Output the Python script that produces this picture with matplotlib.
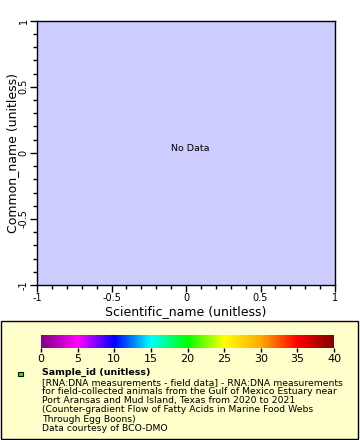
import numpy as np
import matplotlib.pyplot as plt
from matplotlib.colors import LinearSegmentedColormap, Normalize
from matplotlib.patches import Rectangle
from matplotlib.ticker import MultipleLocator
import matplotlib as mpl

# no rows came back from the query, so the scatter is empty
scientific_name = []
common_name = []
sample_id = []

x_range = [-1, 1]
y_range = [-1, 1]
cbar_ticks = [0, 5, 10, 15, 20, 25, 30, 35, 40]
cbar_colors = ["#800080", "#ff00ff", "#0000ff", "#00ffff", "#00ff00",
               "#ffff00", "#ffaa00", "#ff0000", "#800000"]

legend_title = "Sample_id (unitless)"
legend_lines = [
    "[RNA:DNA measurements - field data] - RNA:DNA measurements",
    "for field-collected animals from the Gulf of Mexico Estuary near",
    "Port Aransas and Mud Island, Texas from 2020 to 2021",
    "(Counter-gradient Flow of Fatty Acids in Marine Food Webs",
    "Through Egg Boons)",
    "Data courtesy of BCO-DMO",
]

cmap = LinearSegmentedColormap.from_list(
    "rainbow2", list(zip(np.linspace(0, 1, len(cbar_colors)), cbar_colors)))
norm = Normalize(cbar_ticks[0], cbar_ticks[-1])

fig = plt.figure(figsize=(3.6, 4.4), dpi=100)

# legend box, kept behind the colorbar
fig.patches.append(Rectangle((0.003, 0.002), 0.992, 0.268, transform=fig.transFigure,
                             facecolor="#ffffcc", edgecolor="black", linewidth=1, zorder=-5))

ax = fig.add_axes([0.1028, 0.352, 0.8278, 0.601])
ax.set_facecolor("#ccccff")
ax.scatter(scientific_name, common_name, c=sample_id, cmap=cmap, norm=norm, s=10)
ax.set_xlim(x_range)
ax.set_ylim(y_range)
ax.xaxis.set_major_locator(MultipleLocator(0.5))
ax.xaxis.set_minor_locator(MultipleLocator(0.1))
ax.yaxis.set_major_locator(MultipleLocator(0.5))
ax.yaxis.set_minor_locator(MultipleLocator(0.1))
ax.xaxis.set_major_formatter(lambda v, p: f"{v:g}")
ax.yaxis.set_major_formatter(lambda v, p: f"{v:g}")
ax.tick_params(which="major", direction="out", length=5, width=1, labelsize=7, pad=1)
ax.tick_params(which="minor", direction="out", length=3, width=1)
for lab in ax.get_yticklabels():
    lab.set_rotation(90)
    lab.set_va("center")
for s in ax.spines.values():
    s.set_linewidth(1)
ax.set_xlabel("Scientific_name (unitless)", fontsize=9, labelpad=1)
ax.set_ylabel("Common_name (unitless)", fontsize=9, labelpad=0)
ax.text(0.03, 0.03, "No Data", ha="center", va="center", fontsize=6.8)

cax = fig.add_axes([0.1139, 0.209, 0.814, 0.0295])
cb = mpl.colorbar.ColorbarBase(cax, cmap=cmap, norm=norm, orientation="horizontal", ticks=cbar_ticks)
cb.outline.set_visible(False)
cax.tick_params(direction="out", length=3, width=1, labelsize=8, pad=1)

fig.patches.append(Rectangle((0.05, 0.145), 0.0125, 0.0102, transform=fig.transFigure,
                             facecolor="#00ff00", edgecolor="black", linewidth=0.8, zorder=2))
fig.text(0.117, 0.164, legend_title, fontsize=6.8, fontweight="bold", va="top")
fig.text(0.117, 0.141, "\n".join(legend_lines), fontsize=6.7, va="top", linespacing=1.02)

fig.savefig("out.png", dpi=100)
